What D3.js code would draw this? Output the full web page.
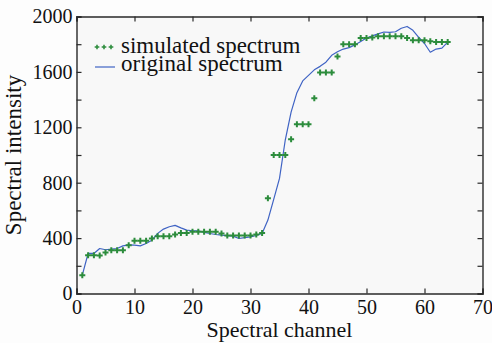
<!DOCTYPE html>
<html>
<head>
<meta charset="utf-8">
<script src="https://cdn.jsdelivr.net/npm/d3@7"></script>
<style>
  html, body { margin: 0; padding: 0; background: #fdfdfd; }
</style>
</head>
<body>
<svg id="chart" width="492" height="343"></svg>
<script>
  const W = 492;
  const H = 343;
  const M = { top: 16.5, right: 9.5, bottom: 49.5, left: 76.5 };
  const FONT = '"Liberation Serif", "Times New Roman", serif';

  const channels = d3.range(1, 65);
  const simulated = [
    132, 277, 277, 275, 296, 313, 313, 313, 349, 380,
    380, 380, 397, 414, 414, 414, 426, 436, 436, 445,
    445, 445, 445, 445, 433, 419, 419, 419, 419, 419,
    426, 436, 687, 1000, 1000, 1000, 1113, 1222, 1222, 1222,
    1410, 1595, 1595, 1595, 1711, 1800, 1800, 1800, 1844, 1844,
    1848, 1858, 1858, 1858, 1858, 1858, 1844, 1829, 1829, 1829,
    1822, 1815, 1815, 1815
  ];
  const original = [
    132, 289, 289, 325, 316, 320, 325, 344, 351, 349,
    344, 361, 385, 434, 465, 482, 492, 474, 458, 453,
    453, 441, 433, 426, 421, 417, 414, 397, 404, 409,
    419, 433, 530, 680, 831, 1110, 1310, 1450, 1535, 1575,
    1615, 1640, 1670, 1720, 1745, 1765, 1775, 1795, 1820, 1845,
    1860, 1875, 1888, 1885, 1890, 1915, 1928, 1900, 1850, 1805,
    1742, 1765, 1772, 1815
  ];
  const xTicks = [0, 10, 20, 30, 40, 50, 60, 70];
  const yLabelTicks = [0, 400, 800, 1200, 1600, 2000];
  const yMinorTicks = d3.range(0, 2001, 200);
  const legendLabels = ['simulated spectrum', 'original spectrum'];

  const GREEN = '#2c8c3c';
  const BLUE = '#3f63c4';
  const AXIS = '#2a2a2a';

  const svg = d3.select('#chart');
  const x = d3.scaleLinear().domain([0, 70]).range([M.left, W - M.right]);
  const y = d3.scaleLinear().domain([0, 2000]).range([H - M.bottom, M.top]);

  svg.append('rect')
    .attr('x', M.left).attr('y', M.top)
    .attr('width', W - M.left - M.right)
    .attr('height', H - M.top - M.bottom)
    .attr('fill', '#f8f8f8');

  // axes: ticks point inward, labels on left/bottom only
  const tick = 5;
  const axisG = svg.append('g');
  axisG.append('g')
    .attr('transform', `translate(0,${H - M.bottom})`)
    .call(d3.axisBottom(x).tickValues(xTicks).tickSize(-tick).tickPadding(6).tickFormat(d3.format('d')));
  axisG.append('g')
    .attr('transform', `translate(0,${M.top})`)
    .call(d3.axisTop(x).tickValues(xTicks).tickSize(-tick).tickFormat(''));
  axisG.append('g')
    .attr('transform', `translate(${M.left},0)`)
    .call(d3.axisLeft(y).tickValues(yMinorTicks).tickSize(-tick).tickPadding(4)
      .tickFormat(d => yLabelTicks.includes(d) ? d : ''));
  axisG.append('g')
    .attr('transform', `translate(${W - M.right},0)`)
    .call(d3.axisRight(y).tickValues(yMinorTicks).tickSize(-tick).tickFormat(''));

  axisG.selectAll('g').attr('font-family', null).attr('font-size', null);
  axisG.selectAll('.domain').attr('stroke', AXIS).attr('stroke-width', 1.4);
  axisG.selectAll('.tick line').attr('stroke', AXIS).attr('stroke-width', 1.2);
  axisG.selectAll('.tick text')
    .style('font-family', FONT)
    .style('font-size', '20px')
    .attr('fill', '#111');

  // original spectrum line
  const line = d3.line()
    .x((d, i) => x(channels[i]))
    .y(d => y(d));

  svg.append('path')
    .datum(original)
    .attr('d', line)
    .attr('fill', 'none')
    .attr('stroke', BLUE)
    .attr('stroke-width', 1.2)
    .attr('stroke-linejoin', 'round');

  // simulated spectrum markers
  const cross = d3.symbol().type(d3.symbolCross).size(20);
  svg.append('g')
    .selectAll('path')
    .data(simulated)
    .join('path')
    .attr('transform', (d, i) => `translate(${x(channels[i])},${y(d)})`)
    .attr('d', cross)
    .attr('fill', GREEN);

  // legend
  const lg = svg.append('g');
  [97, 104, 111].forEach(px => {
    lg.append('path')
      .attr('transform', `translate(${px},47)`)
      .attr('d', d3.symbol().type(d3.symbolCross).size(12))
      .attr('fill', GREEN);
  });
  lg.append('line')
    .attr('x1', 95).attr('x2', 115)
    .attr('y1', 67).attr('y2', 67)
    .attr('stroke', BLUE).attr('stroke-width', 1.2);
  lg.selectAll('text')
    .data(legendLabels)
    .join('text')
    .attr('x', 121)
    .attr('y', (d, i) => 53 + i * 17.5)
    .style('font-family', FONT)
    .style('font-size', '23px')
    .attr('fill', '#111')
    .text(d => d);

  // axis titles
  svg.append('text')
    .attr('x', (M.left + W - M.right) / 2)
    .attr('y', 337)
    .attr('text-anchor', 'middle')
    .style('font-family', FONT)
    .style('font-size', '22px')
    .attr('fill', '#111')
    .text('Spectral channel');

  svg.append('text')
    .attr('transform', `translate(21,${(M.top + H - M.bottom) / 2}) rotate(-90)`)
    .attr('text-anchor', 'middle')
    .style('font-family', FONT)
    .style('font-size', '23px')
    .attr('fill', '#111')
    .text('Spectral intensity');
</script>
</body>
</html>
